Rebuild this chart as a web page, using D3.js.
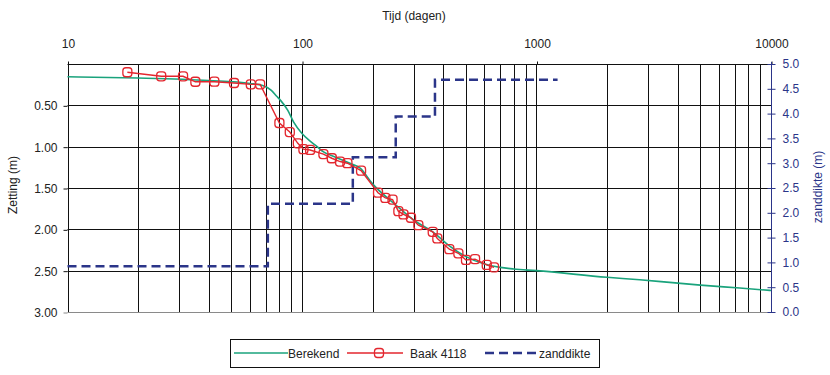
<!DOCTYPE html>
<html>
<head>
<meta charset="utf-8">
<script src="https://cdn.jsdelivr.net/npm/d3@7"></script>
<style>
  body { margin: 0; background: #fff; }
  svg { font-family: "Liberation Sans", Arial, sans-serif; }
</style>
</head>
<body>
<div id="chart"></div>
<script>
// Tijd (dagen) vs zetting (m)
const berekendT = [10, 20, 40, 60, 68, 74, 78, 81, 87, 92, 100, 108, 116, 123, 140, 160, 177, 200, 250, 300, 361, 425, 500, 600, 700, 800, 1000, 2000, 2757, 3800, 5000, 7358, 10000];
const berekendZ = [0.155, 0.17, 0.20, 0.235, 0.26, 0.32, 0.39, 0.44, 0.56, 0.70, 0.84, 0.93, 1.00, 1.06, 1.13, 1.20, 1.26, 1.45, 1.70, 1.89, 2.03, 2.20, 2.33, 2.42, 2.46, 2.48, 2.50, 2.58, 2.61, 2.645, 2.675, 2.71, 2.74];

const baakT = [18, 25.1, 31.1, 35.1, 42.3, 51.3, 60.5, 66.3, 80.1, 88.7, 96, 101.4, 108.3, 123.4, 134, 145.3, 156.2, 178.6, 211, 226.7, 243.3, 257.6, 271, 291.7, 313.5, 361, 377.7, 425, 464.4, 500.5, 547, 613.6, 659];
const baakZ = [0.10, 0.149, 0.149, 0.215, 0.214, 0.23, 0.246, 0.246, 0.714, 0.823, 0.96, 1.03, 1.04, 1.09, 1.14, 1.18, 1.20, 1.29, 1.557, 1.62, 1.64, 1.78, 1.82, 1.86, 1.95, 2.03, 2.11, 2.24, 2.29, 2.37, 2.36, 2.43, 2.46];

// zanddikte (m), step line
const zandT = [10, 71.5, 71.5, 164.7, 164.7, 251, 251, 369, 369, 1230];
const zandD = [0.92, 0.92, 2.18, 2.18, 3.12, 3.12, 3.94, 3.94, 4.68, 4.68];

const topTicks = [10, 100, 1000, 10000];
const leftTicks = [0.5, 1.0, 1.5, 2.0, 2.5, 3.0];
const rightTicks = [0, 0.5, 1.0, 1.5, 2.0, 2.5, 3.0, 3.5, 4.0, 4.5, 5.0];

const width = 830;
const height = 375;
const green = "#1aa37c";
const red = "#e3262e";
const navy = "#2b3589";

const svg = d3
  .select("#chart")
  .append("svg")
  .attr("width", width)
  .attr("height", height);

const x = d3.scaleLog().domain([10, 10000]).range([67.5, 771]);
const y = d3.scaleLinear().domain([0, 3]).range([64, 312]);
const y2 = d3.scaleLinear().domain([0, 5]).range([312, 64]);

// Grid
const grid = svg.append("g");
grid
  .selectAll(".vgrid")
  .data(x.ticks().filter((d) => d < 10000))
  .enter()
  .append("line")
  .attr("x1", (d) => Math.round(x(d)) + 0.5)
  .attr("x2", (d) => Math.round(x(d)) + 0.5)
  .attr("y1", y(0))
  .attr("y2", y(3))
  .style("stroke", "#111")
  .style("stroke-width", 1);

grid
  .selectAll(".hgrid")
  .data([0, 0.5, 1.0, 1.5, 2.0, 2.5])
  .enter()
  .append("line")
  .attr("x1", x(10))
  .attr("x2", x(10000))
  .attr("y1", (d) => Math.round(y(d)) + 0.5)
  .attr("y2", (d) => Math.round(y(d)) + 0.5)
  .style("stroke", "#111")
  .style("stroke-width", 1);

grid
  .append("line")
  .attr("x1", x(10))
  .attr("x2", x(10000))
  .attr("y1", Math.round(y(3)) + 0.5)
  .attr("y2", Math.round(y(3)) + 0.5)
  .style("stroke", "#8a8a8a");

// Top axis
const topAxis = svg
  .append("g")
  .attr("transform", `translate(0.5,${Math.round(y(0)) + 0.5})`)
  .call(
    d3.axisTop(x).tickValues(topTicks).tickSize(3).tickPadding(14).tickFormat(d3.format("d"))
  );
topAxis.select(".domain").remove();
topAxis.selectAll("line").style("stroke", "#111");
topAxis.selectAll("text").style("font-size", "12px").style("fill", "#222");

// Left axis
const leftAxis = svg
  .append("g")
  .attr("transform", `translate(${x(10)},0.5)`)
  .call(
    d3.axisLeft(y).tickValues(leftTicks).tickSize(4).tickPadding(6).tickFormat(d3.format(".2f"))
  );
leftAxis.select(".domain").remove();
leftAxis.selectAll("line").style("stroke", (d) => (d === 3 ? "#8a8a8a" : "#111"));
leftAxis.selectAll("text").style("font-size", "12px").style("fill", "#222");

// Right axis
const rightAxis = svg
  .append("g")
  .attr("transform", `translate(${Math.round(x(10000)) + 0.5},0)`)
  .call(
    d3.axisRight(y2).tickValues(rightTicks).tickSize(4).tickPadding(7).tickFormat(d3.format(".1f"))
  );
rightAxis.select(".domain").attr("d", `M0,${y2(5) - 2}V${y2(0)}`).style("stroke", navy);
rightAxis.selectAll("line").attr("x1", -4).style("stroke", navy);
rightAxis.selectAll("text").style("font-size", "12px").style("fill", navy);

// Titles
svg
  .append("text")
  .attr("x", 414)
  .attr("y", 20)
  .attr("text-anchor", "middle")
  .style("font-size", "12px")
  .style("fill", "#222")
  .text("Tijd (dagen)");

svg
  .append("text")
  .attr("transform", "translate(17,185) rotate(-90)")
  .attr("text-anchor", "middle")
  .style("font-size", "12px")
  .style("fill", "#222")
  .text("Zetting (m)");

svg
  .append("text")
  .attr("transform", "translate(822,187) rotate(-90)")
  .attr("text-anchor", "middle")
  .style("font-size", "12px")
  .style("fill", navy)
  .text("zanddikte (m)");

// Zanddikte step line
const zandData = zandT.map((t, i) => ({ t: t, v: zandD[i] }));
svg
  .append("path")
  .datum(zandData)
  .attr("d", d3.line().x((d) => x(d.t)).y((d) => y2(d.v)))
  .style("fill", "none")
  .style("stroke", navy)
  .style("stroke-width", 2.5)
  .style("stroke-dasharray", "9 5");

// Berekend
const berData = berekendT.map((t, i) => ({ t: t, z: berekendZ[i] }));
svg
  .append("path")
  .datum(berData)
  .attr("d", d3.line().x((d) => x(d.t)).y((d) => y(d.z)).curve(d3.curveMonotoneX))
  .style("fill", "none")
  .style("stroke", green)
  .style("stroke-width", 1.6);

// Baak 4118
const baakData = baakT.map((t, i) => ({ t: t, z: baakZ[i] }));
svg
  .append("path")
  .datum(baakData)
  .attr("d", d3.line().x((d) => x(d.t)).y((d) => y(d.z)))
  .style("fill", "none")
  .style("stroke", red)
  .style("stroke-width", 1.4);

svg
  .selectAll(".baak-point")
  .data(baakData)
  .enter()
  .append("rect")
  .attr("class", "baak-point")
  .attr("x", (d) => x(d.t) - 4.5)
  .attr("y", (d) => y(d.z) - 4.5)
  .attr("width", 9)
  .attr("height", 9)
  .attr("rx", 3)
  .style("fill", "none")
  .style("stroke", red)
  .style("stroke-width", 1.3);

// Legend
const legend = svg.append("g");
legend
  .append("rect")
  .attr("x", 230.5)
  .attr("y", 339.5)
  .attr("width", 369)
  .attr("height", 28)
  .style("fill", "#fff")
  .style("stroke", "#111");

legend
  .append("line")
  .attr("x1", 234).attr("x2", 288).attr("y1", 353).attr("y2", 353)
  .style("stroke", green).style("stroke-width", 1.6);
legend
  .append("text")
  .attr("x", 288).attr("y", 357.5)
  .style("font-size", "12px").style("fill", "#222")
  .text("Berekend");

legend
  .append("line")
  .attr("x1", 347).attr("x2", 403).attr("y1", 353).attr("y2", 353)
  .style("stroke", red).style("stroke-width", 1.4);
legend
  .append("rect")
  .attr("x", 374.5).attr("y", 348.5).attr("width", 9).attr("height", 9).attr("rx", 3)
  .style("fill", "none").style("stroke", red).style("stroke-width", 1.3);
legend
  .append("text")
  .attr("x", 410).attr("y", 357.5)
  .style("font-size", "12px").style("fill", "#222")
  .text("Baak 4118");

legend
  .append("line")
  .attr("x1", 485).attr("x2", 538).attr("y1", 353).attr("y2", 353)
  .style("stroke", navy).style("stroke-width", 2.5).style("stroke-dasharray", "9 5");
legend
  .append("text")
  .attr("x", 539).attr("y", 357.5)
  .style("font-size", "12px").style("fill", "#222")
  .text("zanddikte");
</script>
</body>
</html>
